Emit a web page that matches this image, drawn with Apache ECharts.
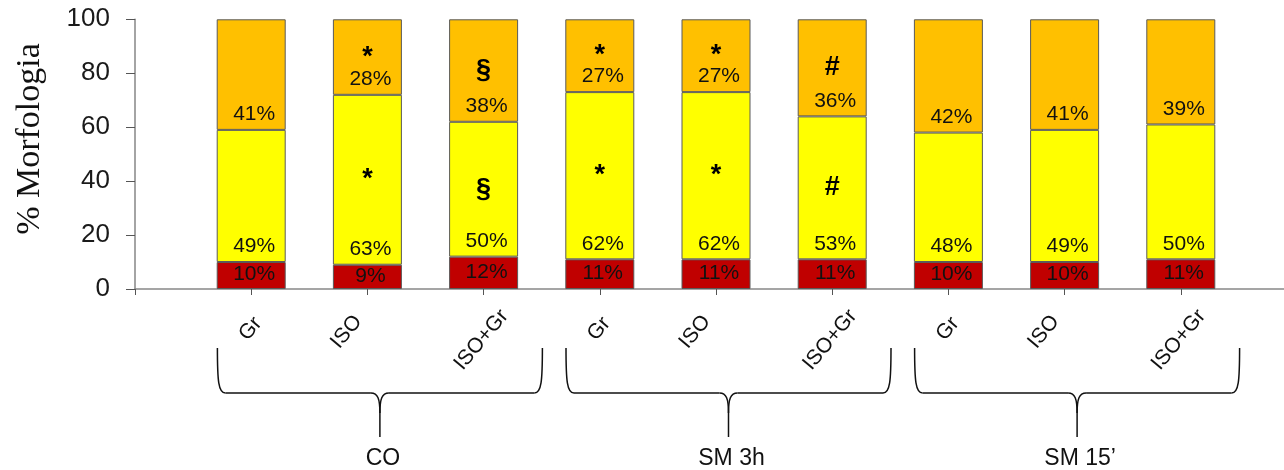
<!DOCTYPE html>
<html>
<head>
<meta charset="utf-8">
<script src="https://cdn.jsdelivr.net/npm/echarts@6/dist/echarts.min.js"></script>
<style>
  html, body { margin: 0; padding: 0; background: #fff; }
  #chart { width: 1284px; height: 470px; }
</style>
</head>
<body>
<div id="chart"></div>
<script>
// Morphology shares per condition (percent); each bar sums to 100
const groups = ['CO', 'SM 3h', 'SM 15’'];
const treatments = ['Gr', 'ISO', 'ISO+Gr', 'Gr', 'ISO', 'ISO+Gr', 'Gr', 'ISO', 'ISO+Gr'];
const redValues = [10, 9, 12, 11, 11, 11, 10, 10, 11];
const yellowValues = [49, 63, 50, 62, 62, 53, 48, 49, 50];
const orangeValues = [41, 28, 38, 27, 27, 36, 42, 41, 39];
// significance marks drawn inside the yellow and orange segments
const yellowMarks = ['', '*', '§', '*', '*', '#', '', '', ''];
const orangeMarks = ['', '*', '§', '*', '*', '#', '', '', ''];
const yTicks = [0, 20, 40, 60, 80, 100];

// the category axis has an empty slot at each end so the bars sit on interior ticks
const categories = [''].concat(treatments, ['']);
const pad = arr => ['-'].concat(arr, ['-']);
const padMarks = arr => [''].concat(arr, ['']);
const yMarks = padMarks(yellowMarks);
const oMarks = padMarks(orangeMarks);

const FONT = 'Liberation Sans, Arial, sans-serif';
const BAR_W = 69;
const labelKey = { 'Gr': 'g', 'ISO': 'iso', 'ISO+Gr': 'isogr' };

const chart = echarts.init(document.getElementById('chart'), null, { renderer: 'canvas' });

function pctLabel(position, extra) {
  return Object.assign({
    show: true,
    position: position,
    formatter: p => p.value + '%',
    color: '#111',
    fontFamily: FONT,
    fontSize: 21
  }, extra || {});
}

function markLabel(marks) {
  return {
    show: true,
    position: 'inside',
    formatter: p => marks[p.dataIndex] || '',
    color: '#000',
    fontFamily: FONT,
    fontSize: 27,
    fontWeight: 'bold'
  };
}

const segBorder = { borderColor: '#5a5a5a', borderWidth: 1 };
const tickLabelStyle = { fontFamily: FONT, fontSize: 21, color: '#111' };

chart.setOption({
  animation: false,
  backgroundColor: '#fff',
  grid: { left: 135, top: 19.3, height: 269.7, width: 1162, containLabel: false, outerBoundsMode: 'none' },
  xAxis: {
    type: 'category',
    data: categories,
    boundaryGap: false,
    axisLine: { show: true, lineStyle: { color: '#888', width: 1.5 } },
    axisTick: { show: true, length: 6, lineStyle: { color: '#555' } },
    axisLabel: {
      interval: 0,
      rotate: 50,
      align: 'center',
      verticalAlign: 'middle',
      margin: 39,
      color: '#111',
      fontFamily: FONT,
      fontSize: 21,
      formatter: v => v ? '{' + labelKey[v] + '|' + v + '}' : '',
      rich: {
        g: Object.assign({ padding: [0, 2, 0, 0] }, tickLabelStyle),
        iso: Object.assign({ padding: [0, 33, 27, 0] }, tickLabelStyle),
        isogr: Object.assign({ padding: [12, 21, 0, 0] }, tickLabelStyle)
      }
    },
    splitLine: { show: false }
  },
  yAxis: {
    type: 'value',
    min: yTicks[0],
    max: yTicks[yTicks.length - 1],
    interval: yTicks[1] - yTicks[0],
    axisLine: { show: true, lineStyle: { color: '#868686', width: 1.5 } },
    axisTick: { show: true, inside: false, length: 9, lineStyle: { color: '#555' } },
    axisLabel: { color: '#1a1a1a', fontFamily: FONT, fontSize: 26, margin: 25 },
    splitLine: { show: false }
  },
  series: [
    {
      name: 'red', type: 'bar', stack: 'pct', barWidth: BAR_W,
      data: pad(redValues),
      itemStyle: Object.assign({ color: '#C00000' }, segBorder),
      label: pctLabel('inside', { offset: [3, -1] })
    },
    {
      name: 'yellow', type: 'bar', stack: 'pct', barWidth: BAR_W,
      data: pad(yellowValues),
      itemStyle: Object.assign({ color: '#FFFF00' }, segBorder),
      label: pctLabel('insideBottom', { distance: 5, offset: [3, 0] })
    },
    {
      name: 'orange', type: 'bar', stack: 'pct', barWidth: BAR_W,
      data: pad(orangeValues),
      itemStyle: Object.assign({ color: '#FFC000' }, segBorder),
      label: pctLabel('insideBottom', { distance: 5, offset: [3, 0] })
    },
    // transparent twin stack carrying the significance marks
    {
      name: 'redMarks', type: 'bar', stack: 'marks', barWidth: BAR_W, barGap: '-100%', silent: true,
      data: pad(redValues), itemStyle: { color: 'rgba(0,0,0,0)' }, label: { show: false }
    },
    {
      name: 'yellowMarks', type: 'bar', stack: 'marks', barWidth: BAR_W, barGap: '-100%', silent: true,
      data: pad(yellowValues), itemStyle: { color: 'rgba(0,0,0,0)' }, label: markLabel(yMarks)
    },
    {
      name: 'orangeMarks', type: 'bar', stack: 'marks', barWidth: BAR_W, barGap: '-100%', silent: true,
      data: pad(orangeValues), itemStyle: { color: 'rgba(0,0,0,0)' }, label: markLabel(oMarks)
    }
  ]
});

// Curly braces under each group of three bars, with the group name below
const braceStyle = { stroke: '#111', lineWidth: 1.5, fill: null };
function curve(x1, y1, c1x, c1y, c2x, c2y, x2, y2) {
  return { type: 'bezierCurve', silent: true, style: braceStyle,
    shape: { x1: x1, y1: y1, cpx1: c1x, cpy1: c1y, cpx2: c2x, cpy2: c2y, x2: x2, y2: y2 } };
}
function seg(x1, y1, x2, y2) {
  return { type: 'line', silent: true, style: braceStyle, shape: { x1: x1, y1: y1, x2: x2, y2: y2 } };
}
function brace(l, r, top, mid, tip) {
  const c = (l + r) / 2;
  return [
    curve(l, top, l, mid - 12, l + 1, mid, l + 8, mid),
    seg(l + 8, mid, c - 9, mid),
    curve(c - 9, mid, c - 2, mid, c, mid + 6, c, mid + 20),
    seg(c, mid + 20, c, tip),
    curve(c + 9, mid, c + 2, mid, c, mid + 6, c, mid + 20),
    seg(c + 9, mid, r - 8, mid),
    curve(r, top, r, mid - 12, r - 1, mid, r - 8, mid)
  ];
}

const graphics = [];
groups.forEach((g, i) => {
  const cx = chart.convertToPixel({ xAxisIndex: 0 }, 2 + i * 3);
  const l = cx - 150, r = cx + 175;
  brace(l, r, 348, 393, 437).forEach(el => graphics.push(el));
  graphics.push({
    type: 'text',
    x: (l + r) / 2 + 3, y: 459,
    style: { text: g, fill: '#111', font: '23px ' + FONT, textAlign: 'center', textVerticalAlign: 'middle' },
    silent: true
  });
});
// y-axis title
graphics.push({
  type: 'text',
  x: 30, y: 139,
  rotation: Math.PI / 2,
  style: { text: '% Morfologia', fill: '#111', font: '34px "Liberation Serif", "Times New Roman", serif', textAlign: 'center', textVerticalAlign: 'middle' },
  silent: true
});
chart.setOption({ graphic: graphics });
</script>
</body>
</html>
